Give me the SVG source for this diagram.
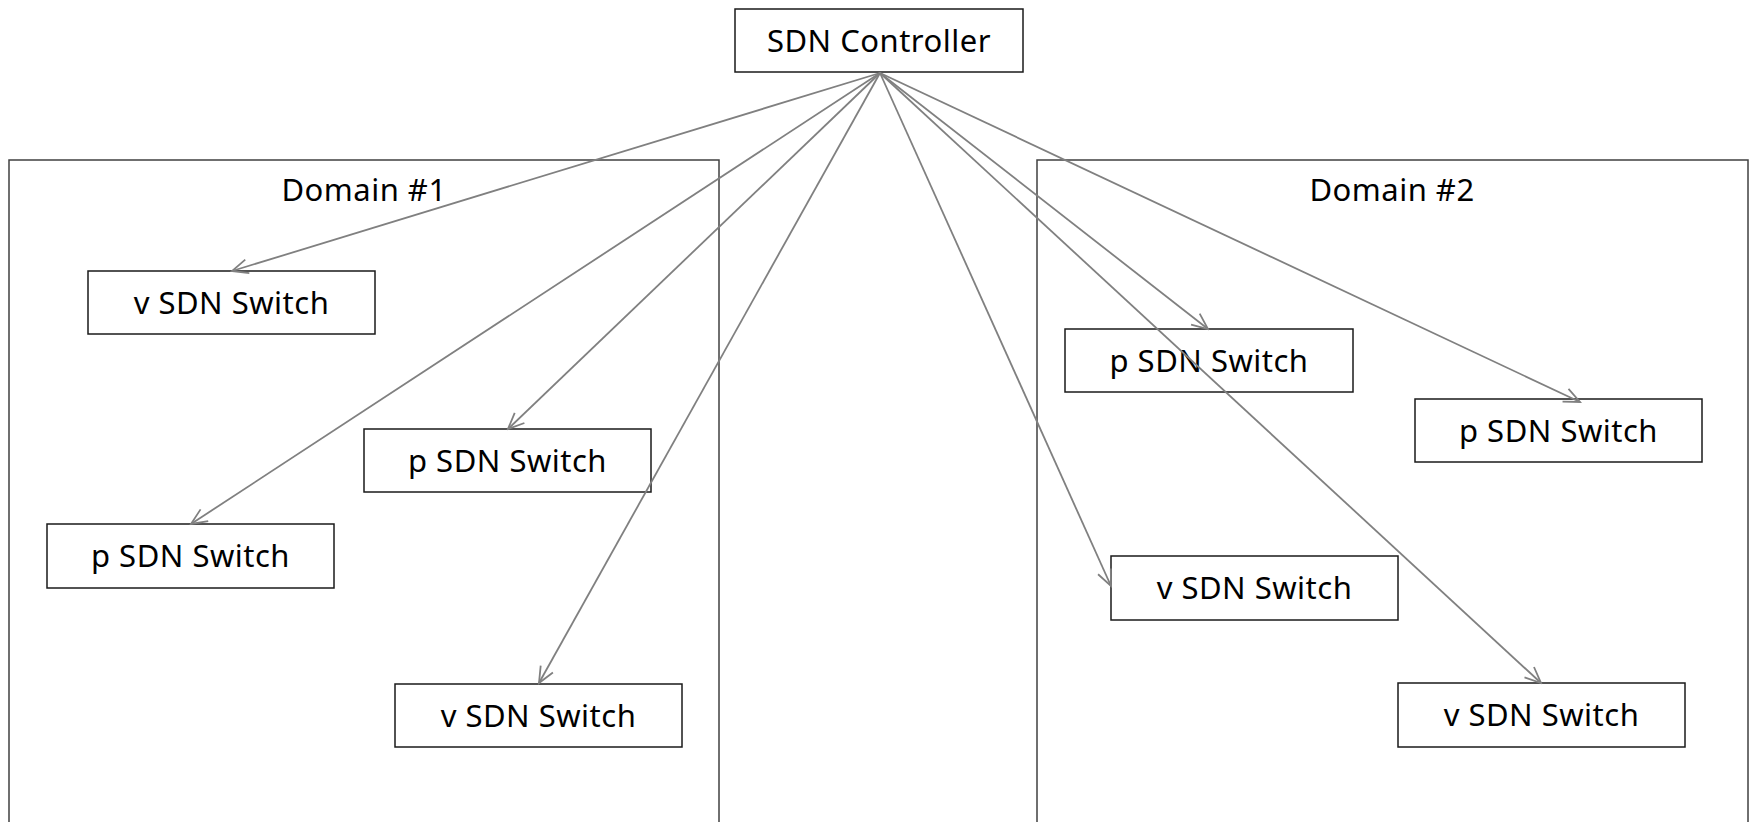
<svg xmlns="http://www.w3.org/2000/svg" width="1752" height="822" viewBox="0 0 1752 822">
<style>
.dom{fill:none;stroke:#404040;stroke-width:1.5}
.box{fill:#ffffff;stroke:#1a1a1a;stroke-width:1.5}
.t{font-family:"Noto Sans","Open Sans","Liberation Sans",sans-serif;font-size:31px;letter-spacing:0.5px;fill:#000;text-anchor:middle}
.c{fill:none;stroke:#808080;stroke-width:1.8}
</style>
<defs>
<marker id="arr" markerUnits="userSpaceOnUse" markerWidth="20" markerHeight="20" viewBox="0 0 20 20" refX="18" refY="10" orient="auto">
<path d="M2,3 L18,10 L2,17" fill="none" stroke="#808080" stroke-width="1.8"/>
</marker>
</defs>
<rect width="1752" height="822" fill="#ffffff"/>
<g id="domain1"><rect class="dom" x="9" y="160" width="710" height="680"/><text class="t" x="364" y="201">Domain #1</text></g>
<g id="domain2"><rect class="dom" x="1037" y="160" width="711" height="680"/><text class="t" x="1392" y="201">Domain #2</text></g>
<g id="controller"><rect class="box" x="735" y="9" width="288" height="63"/><text class="t" x="879" y="52">SDN Controller</text></g>
<g id="d1_vswitch1"><rect class="box" x="88" y="271" width="287" height="63"/><text class="t" x="231.5" y="314">v SDN Switch</text></g>
<g id="d1_pswitch1"><rect class="box" x="364" y="429" width="287" height="63"/><text class="t" x="507.5" y="472">p SDN Switch</text></g>
<g id="d1_pswitch2"><rect class="box" x="47" y="524" width="287" height="64"/><text class="t" x="190.5" y="567">p SDN Switch</text></g>
<g id="d1_vswitch2"><rect class="box" x="395" y="684" width="287" height="63"/><text class="t" x="538.5" y="727">v SDN Switch</text></g>
<g id="d2_pswitch1"><rect class="box" x="1065" y="329" width="288" height="63"/><text class="t" x="1209" y="372">p SDN Switch</text></g>
<g id="d2_pswitch2"><rect class="box" x="1415" y="399" width="287" height="63"/><text class="t" x="1558.5" y="442">p SDN Switch</text></g>
<g id="d2_vswitch1"><rect class="box" x="1111" y="556" width="287" height="64"/><text class="t" x="1254.5" y="599">v SDN Switch</text></g>
<g id="d2_vswitch2"><rect class="box" x="1398" y="683" width="287" height="64"/><text class="t" x="1541.5" y="726">v SDN Switch</text></g>
<g id="connectors">
<line class="c" x1="880" y1="73" x2="232" y2="271" marker-end="url(#arr)"/>
<line class="c" x1="880" y1="73" x2="191" y2="524" marker-end="url(#arr)"/>
<line class="c" x1="880" y1="73" x2="508" y2="429" marker-end="url(#arr)"/>
<line class="c" x1="880" y1="73" x2="539" y2="683" marker-end="url(#arr)"/>
<line class="c" x1="880" y1="73" x2="1208" y2="329" marker-end="url(#arr)"/>
<line class="c" x1="880" y1="73" x2="1580" y2="402" marker-end="url(#arr)"/>
<line class="c" x1="880" y1="73" x2="1111" y2="586" marker-end="url(#arr)"/>
<line class="c" x1="880" y1="73" x2="1541" y2="683" marker-end="url(#arr)"/>
</g>
</svg>
